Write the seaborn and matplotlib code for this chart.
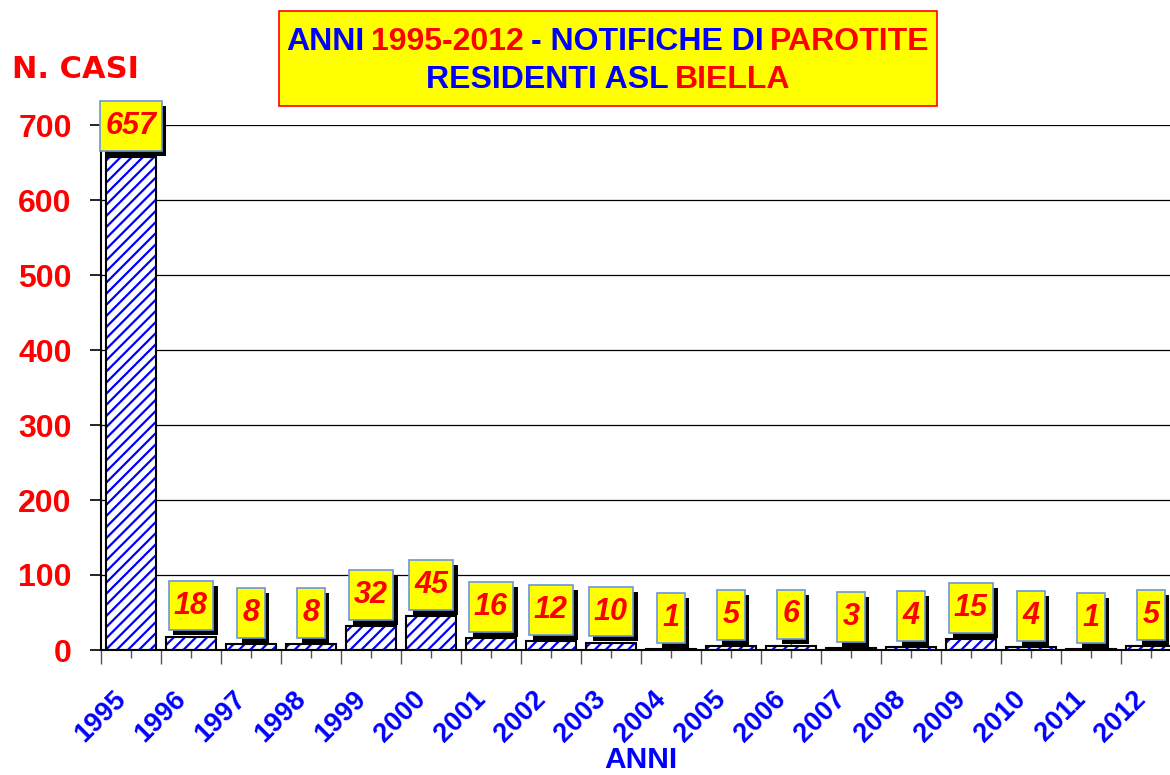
import numpy as np
import pandas as pd
import seaborn as sns
import matplotlib.pyplot as plt
import matplotlib.patheffects as pe
from matplotlib.patches import Rectangle
from matplotlib.path import Path


years = ['1995', '1996', '1997', '1998', '1999', '2000', '2001', '2002', '2003',
         '2004', '2005', '2006', '2007', '2008', '2009', '2010', '2011', '2012']
cases = [657, 18, 8, 8, 32, 45, 16, 12, 10, 1, 5, 6, 3, 4, 15, 4, 1, 5]
y_ticks = [0, 100, 200, 300, 400, 500, 600, 700]

title_line1 = [('ANNI', 'blue'), ('1995-2012', 'red'), ('- NOTIFICHE DI', 'blue'), ('PAROTITE', 'red')]
title_line2 = [('RESIDENTI ASL', 'blue'), ('BIELLA', 'red')]

sns.set_theme(style='white')
plt.rcParams['font.family'] = ['Liberation Sans', 'DejaVu Sans']
plt.rcParams['hatch.linewidth'] = 1.6

W, H = 1170, 775
fig = plt.figure(figsize=(W / 100, H / 100), dpi=100)
ax = fig.add_axes([101 / W, 1 - 650 / H, 1080 / W, 525 / H])

df = pd.DataFrame({'anno': years, 'casi': cases})

# hatched fill (hatch colour comes from edgecolor) + black outline on top
sns.barplot(data=df, x='anno', y='casi', color='white', saturation=1, width=0.83,
            edgecolor='blue', linewidth=0, hatch='///', ax=ax, zorder=2)
sns.barplot(data=df, x='anno', y='casi', fill=False, color='black', width=0.83,
            linewidth=1.5, ax=ax, zorder=3)

ax.set_xlim(-0.5, len(years) - 0.5)
ax.set_ylim(0, 700)
ax.set_yticks(y_ticks)
ax.set_xticks(np.arange(-0.5, len(years), 1), minor=True)
ax.set_axisbelow(True)
ax.yaxis.grid(True, color='black', lw=0.9)
ax.xaxis.grid(False)

for s in ['top', 'right']:
    ax.spines[s].set_visible(False)
for s in ['left', 'bottom']:
    ax.spines[s].set_color('black')
    ax.spines[s].set_linewidth(1.5)

ax.tick_params(axis='x', which='major', direction='inout', length=12, width=1,
               color='#555555', labelcolor='blue', labelsize=19.5, pad=33, bottom=True)
ax.tick_params(axis='x', which='minor', direction='out', length=10, width=1,
               color='#555555', bottom=True)
ax.tick_params(axis='y', direction='out', length=8, width=1.2, color='black',
               labelcolor='red', labelsize=23, pad=13, left=True)
for lab in ax.get_xticklabels():
    lab.set_rotation(45)
    lab.set_ha('right')
    lab.set_va('bottom')
    lab.set_rotation_mode('anchor')
    lab.set_fontweight('bold')
for lab in ax.get_yticklabels():
    lab.set_fontweight('bold')

ax.set_ylabel('')
ax.set_xlabel('ANNI', color='blue', fontsize=21.5, fontweight='bold')
ax.xaxis.set_label_coords(0.5, -96 / 525)
ax.xaxis.label.set_va('top')


def tall_box(x0, y0, width, height, mutation_size):
    # narrower side padding, taller top/bottom padding
    px, py = 0.17 * mutation_size, 0.32 * mutation_size
    x0, y0 = x0 - px, y0 - py
    x1, y1 = x0 + width + 2 * px, y0 + height + 2 * py
    return Path([(x0, y0), (x1, y0), (x1, y1), (x0, y1), (x0, y0)], closed=True)


# value labels: yellow boxes with drop shadow
for i, v in enumerate(cases):
    t = ax.annotate(str(v), xy=(i, v), xytext=(0, 16), textcoords='offset pixels',
                    ha='center', va='bottom', fontsize=22, fontweight='bold',
                    fontstyle='italic', color='red', annotation_clip=False, zorder=5,
                    bbox=dict(boxstyle=tall_box, fc='yellow', ec='#6b96e0', lw=1.2))
    t.get_bbox_patch().set_path_effects([
        pe.SimplePatchShadow(offset=(3.2, -3.6), shadow_rgbFace='black', alpha=1),
        pe.Normal()])

fig.text(12 / W, 1 - 78 / H, 'N. CASI', color='red', fontsize=22, fontweight='bold',
         family=['DejaVu Sans'], va='baseline')

# title box with two-colour text
fig.add_artist(Rectangle((279 / W, 1 - 106 / H), 658 / W, 95 / H, transform=fig.transFigure,
                         facecolor='yellow', edgecolor='red', lw=1.2))

fig.canvas.draw()
renderer = fig.canvas.get_renderer()
tkw = dict(fontsize=23, fontweight='bold')


def width_px(s):
    t = fig.text(0, 0, s, **tkw)
    w = t.get_window_extent(renderer).width
    t.remove()
    return w


space = width_px('A A') - width_px('AA')
for line, y in [(title_line1, 1 - 50 / H), (title_line2, 1 - 88 / H)]:
    widths = [width_px(s) for s, c in line]
    total = sum(widths) + space * (len(line) - 1)
    x = 608 - total / 2
    for (s, c), w in zip(line, widths):
        fig.text(x / W, y, s, color=c, va='baseline', ha='left', **tkw)
        x += w + space

fig.savefig('out.png', dpi=100)
